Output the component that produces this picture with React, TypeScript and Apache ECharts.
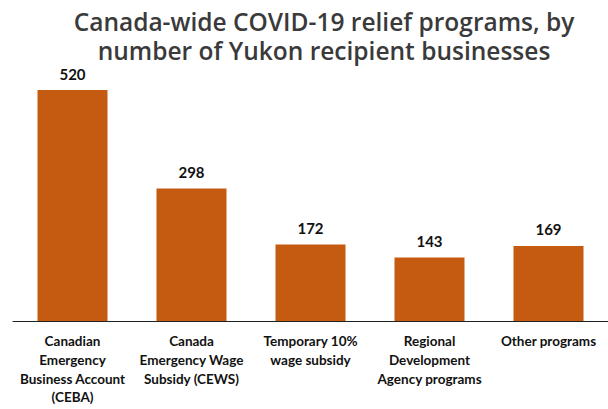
import React, { useEffect, useRef } from "react";
import * as echarts from "echarts";

const titleLines = ["Canada-wide COVID-19 relief programs, by", "number of Yukon recipient businesses"];
const categories = [
  "Canadian\nEmergency\nBusiness Account\n(CEBA)",
  "Canada\nEmergency Wage\nSubsidy (CEWS)",
  "Temporary 10%\nwage subsidy",
  "Regional\nDevelopment\nAgency programs",
  "Other programs",
];
const values = [520, 298, 172, 143, 169];

export default function App() {
  const ref = useRef<HTMLDivElement>(null);
  useEffect(() => {
    const chart = echarts.init(ref.current!, null, { renderer: "svg" });
    chart.setOption({
      animation: false,
      title: [
        {
          text: titleLines[0],
          left: 324,
          textAlign: "center",
          top: 8,
          padding: 0,
          textStyle: { fontFamily: "Open Sans", fontWeight: 600, fontSize: 24.5, lineHeight: 27, color: "#3a3a3a" },
        },
        {
          text: titleLines[1],
          left: 324,
          textAlign: "center",
          top: 37,
          padding: 0,
          textStyle: { fontFamily: "Open Sans", fontWeight: 600, fontSize: 24.5, lineHeight: 27, color: "#3a3a3a" },
        },
      ],
      grid: { left: 13, right: 0, top: 90, bottom: 88 },
      xAxis: {
        type: "category",
        data: categories,
        axisTick: { show: false },
        axisLine: { lineStyle: { color: "#222", width: 1 } },
        axisLabel: {
          interval: 0,
          margin: 11,
          fontFamily: "Lato",
          fontWeight: "bold",
          fontSize: 13.5,
          lineHeight: 18.7,
          color: "#111",
        },
      },
      yAxis: {
        type: "value",
        min: 0,
        max: 520,
        show: false,
        splitLine: { show: false },
      },
      series: [
        {
          type: "bar",
          data: values,
          barWidth: 70,
          itemStyle: { color: "#C55A11" },
          label: {
            show: true,
            position: "top",
            distance: 9,
            fontFamily: "Lato",
            fontWeight: "bold",
            fontSize: 15,
            color: "#111",
          },
        },
      ],
    });
    return () => chart.dispose();
  }, []);
  return <div ref={ref} style={{ position: "absolute", left: 0, top: 0, width: 608, height: 409 }} />;
}
